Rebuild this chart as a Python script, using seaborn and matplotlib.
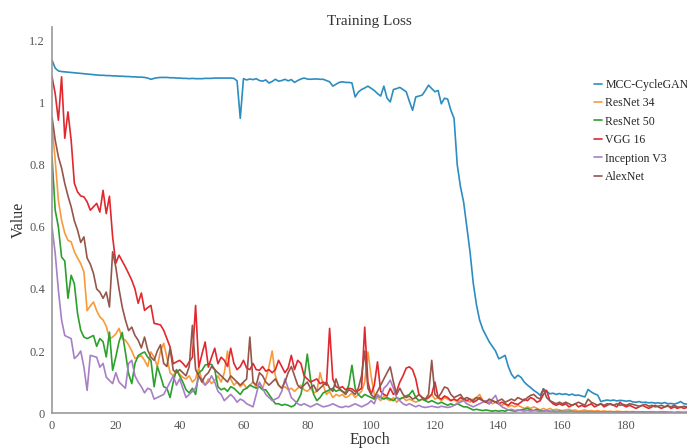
import matplotlib
matplotlib.use("Agg")
import matplotlib.pyplot as plt
import numpy as np
import pandas as pd
import seaborn as sns

epochs = list(range(200))

mcc_cyclegan = [
    1.138, 1.112, 1.103, 1.101, 1.100, 1.099, 1.098, 1.097, 1.096, 1.095,
    1.094, 1.093, 1.092, 1.091, 1.090, 1.089, 1.089, 1.088, 1.088, 1.087,
    1.087, 1.086, 1.086, 1.085, 1.085, 1.084, 1.084, 1.083, 1.083, 1.082,
    1.080, 1.076, 1.079, 1.081, 1.082, 1.082, 1.082, 1.081, 1.081, 1.080,
    1.080, 1.079, 1.079, 1.078, 1.079, 1.078, 1.078, 1.078, 1.079, 1.079,
    1.079, 1.080, 1.080, 1.080, 1.080, 1.080, 1.080, 1.079, 1.071, 0.950,
    1.078, 1.074, 1.077, 1.075, 1.078, 1.072, 1.070, 1.074, 1.064, 1.069,
    1.076, 1.070, 1.072, 1.076, 1.071, 1.075, 1.066, 1.072, 1.077, 1.080,
    1.077, 1.076, 1.077, 1.077, 1.076, 1.076, 1.072, 1.068, 1.054, 1.060,
    1.066, 1.068, 1.066, 1.066, 1.064, 1.019, 1.035, 1.043, 1.048, 1.054,
    1.047, 1.040, 1.030, 1.022, 1.054, 1.015, 1.003, 1.043, 1.046, 1.050,
    1.043, 1.036, 1.005, 0.976, 1.019, 1.022, 1.025, 1.040, 1.057, 1.046,
    1.036, 1.040, 0.997, 1.015, 1.012, 0.976, 0.950, 0.800, 0.730, 0.680,
    0.600, 0.520, 0.420, 0.350, 0.300, 0.270, 0.250, 0.230, 0.215, 0.200,
    0.175, 0.180, 0.186, 0.150, 0.125, 0.112, 0.122, 0.115, 0.100, 0.090,
    0.082, 0.073, 0.066, 0.057, 0.078, 0.070, 0.062, 0.064, 0.060, 0.063,
    0.060, 0.062, 0.058, 0.061, 0.057, 0.058, 0.055, 0.052, 0.076, 0.068,
    0.062, 0.058, 0.037, 0.040, 0.042, 0.040, 0.042, 0.039, 0.041, 0.040,
    0.038, 0.040, 0.036, 0.035, 0.037, 0.034, 0.035, 0.033, 0.034, 0.032,
    0.033, 0.031, 0.034, 0.030, 0.031, 0.029, 0.032, 0.037, 0.030, 0.029,
]

resnet34 = [
    0.928, 0.815, 0.686, 0.622, 0.580, 0.557, 0.552, 0.520, 0.500, 0.482,
    0.455, 0.330, 0.345, 0.358, 0.330, 0.310, 0.300, 0.280, 0.240, 0.245,
    0.255, 0.273, 0.240, 0.235, 0.220, 0.200, 0.176, 0.180, 0.185, 0.170,
    0.150, 0.197, 0.180, 0.150, 0.200, 0.225, 0.180, 0.130, 0.120, 0.138,
    0.125, 0.115, 0.110, 0.120, 0.100, 0.110, 0.148, 0.100, 0.090, 0.110,
    0.095, 0.105, 0.120, 0.100, 0.130, 0.200, 0.110, 0.090, 0.100, 0.085,
    0.095, 0.080, 0.090, 0.100, 0.085, 0.095, 0.080, 0.110, 0.150, 0.200,
    0.120, 0.090, 0.080, 0.085, 0.075, 0.080, 0.070, 0.080, 0.090, 0.075,
    0.070, 0.080, 0.065, 0.070, 0.130, 0.090, 0.060, 0.070, 0.050, 0.060,
    0.055, 0.060, 0.050, 0.055, 0.065, 0.050, 0.060, 0.070, 0.100, 0.197,
    0.120, 0.060, 0.050, 0.040, 0.055, 0.045, 0.040, 0.050, 0.035, 0.045,
    0.050, 0.040, 0.045, 0.040, 0.035, 0.040, 0.045, 0.040, 0.050, 0.060,
    0.045, 0.050, 0.040, 0.050, 0.045, 0.040, 0.045, 0.035, 0.040, 0.045,
    0.040, 0.035, 0.045, 0.050, 0.060, 0.040, 0.035, 0.040, 0.030, 0.035,
    0.030, 0.025, 0.030, 0.020, 0.025, 0.020, 0.025, 0.020, 0.015, 0.020,
    0.015, 0.020, 0.015, 0.010, 0.015, 0.010, 0.015, 0.010, 0.012, 0.010,
    0.008, 0.010, 0.012, 0.008, 0.010, 0.006, 0.008, 0.010, 0.006, 0.008,
    0.006, 0.008, 0.005, 0.007, 0.005, 0.006, 0.004, 0.006, 0.005, 0.004,
    0.005, 0.004, 0.005, 0.003, 0.004, 0.003, 0.004, 0.003, 0.004, 0.003,
    0.003, 0.004, 0.003, 0.002, 0.003, 0.002, 0.003, 0.002, 0.003, 0.002,
]

resnet50 = [
    0.826, 0.654, 0.600, 0.503, 0.490, 0.370, 0.444, 0.417, 0.321, 0.267,
    0.245, 0.240, 0.245, 0.250, 0.215, 0.240, 0.230, 0.181, 0.261, 0.138,
    0.181, 0.230, 0.260, 0.196, 0.127, 0.095, 0.160, 0.185, 0.192, 0.197,
    0.180, 0.170, 0.085, 0.150, 0.120, 0.085, 0.080, 0.050, 0.100, 0.140,
    0.120, 0.100, 0.075, 0.065, 0.080, 0.060, 0.130, 0.138, 0.155, 0.157,
    0.157, 0.140, 0.085, 0.075, 0.080, 0.070, 0.085, 0.080, 0.070, 0.060,
    0.075, 0.080, 0.090, 0.085, 0.080, 0.085, 0.075, 0.075, 0.060, 0.045,
    0.030, 0.030, 0.025, 0.028, 0.025, 0.020, 0.025, 0.040, 0.060, 0.110,
    0.190, 0.110, 0.060, 0.040, 0.050, 0.065, 0.070, 0.075, 0.080, 0.070,
    0.075, 0.070, 0.065, 0.090, 0.154, 0.080, 0.060, 0.050, 0.060, 0.055,
    0.050, 0.045, 0.055, 0.050, 0.045, 0.050, 0.045, 0.040, 0.050, 0.045,
    0.050, 0.055, 0.060, 0.073, 0.050, 0.040, 0.045, 0.040, 0.035, 0.040,
    0.035, 0.030, 0.035, 0.030, 0.025, 0.030, 0.025, 0.030, 0.025, 0.020,
    0.020, 0.015, 0.010, 0.012, 0.010, 0.008, 0.010, 0.008, 0.006, 0.008,
    0.006, 0.008, 0.006, 0.010, 0.008, 0.006, 0.008, 0.010, 0.012, 0.015,
    0.010, 0.008, 0.012, 0.008, 0.006, 0.008, 0.005, 0.006, 0.004, 0.006,
    0.005, 0.004, 0.006, 0.005, 0.004, 0.003, 0.004, 0.003, 0.005, 0.004,
    0.003, 0.004, 0.003, 0.002, 0.003, 0.004, 0.003, 0.002, 0.003, 0.002,
    0.003, 0.002, 0.003, 0.002, 0.002, 0.003, 0.002, 0.002, 0.003, 0.002,
    0.002, 0.002, 0.003, 0.002, 0.002, 0.001, 0.002, 0.002, 0.001, 0.002,
]

vgg16 = [
    1.084, 1.030, 0.944, 1.084, 0.886, 0.971, 0.880, 0.741, 0.713, 0.700,
    0.697, 0.681, 0.654, 0.665, 0.676, 0.648, 0.718, 0.643, 0.699, 0.568,
    0.483, 0.509, 0.490, 0.471, 0.450, 0.428, 0.400, 0.354, 0.387, 0.331,
    0.340, 0.347, 0.289, 0.287, 0.284, 0.267, 0.240, 0.213, 0.159, 0.165,
    0.170, 0.160, 0.148, 0.165, 0.180, 0.347, 0.148, 0.190, 0.229, 0.148,
    0.180, 0.209, 0.159, 0.180, 0.170, 0.150, 0.209, 0.160, 0.140, 0.150,
    0.170, 0.145, 0.140, 0.160, 0.140, 0.138, 0.150, 0.135, 0.140, 0.130,
    0.140, 0.170, 0.150, 0.130, 0.145, 0.186, 0.140, 0.170, 0.160, 0.120,
    0.110, 0.100, 0.105, 0.110, 0.095, 0.100, 0.090, 0.273, 0.110, 0.085,
    0.080, 0.085, 0.075, 0.080, 0.078, 0.070, 0.072, 0.080, 0.277, 0.100,
    0.060, 0.090, 0.165, 0.070, 0.060, 0.055, 0.080, 0.060, 0.070, 0.100,
    0.120, 0.145, 0.149, 0.140, 0.110, 0.060, 0.050, 0.045, 0.050, 0.060,
    0.100, 0.050, 0.045, 0.055, 0.050, 0.040, 0.045, 0.040, 0.050, 0.045,
    0.040, 0.045, 0.035, 0.040, 0.050, 0.040, 0.035, 0.030, 0.040, 0.035,
    0.030, 0.035, 0.030, 0.025, 0.035, 0.030, 0.028, 0.035, 0.045, 0.040,
    0.050, 0.045, 0.035, 0.040, 0.060, 0.073, 0.040, 0.030, 0.025, 0.030,
    0.025, 0.030, 0.020, 0.025, 0.030, 0.020, 0.025, 0.020, 0.025, 0.030,
    0.020, 0.025, 0.030, 0.020, 0.025, 0.030, 0.025, 0.020, 0.035, 0.025,
    0.020, 0.025, 0.020, 0.015, 0.020, 0.025, 0.020, 0.015, 0.020, 0.025,
    0.020, 0.015, 0.020, 0.025, 0.015, 0.020, 0.015, 0.020, 0.015, 0.018,
]

inception_v3 = [
    0.600, 0.515, 0.396, 0.300, 0.250, 0.245, 0.240, 0.176, 0.185, 0.200,
    0.148, 0.073, 0.186, 0.183, 0.180, 0.148, 0.160, 0.116, 0.105, 0.095,
    0.130, 0.100, 0.090, 0.080, 0.160, 0.170, 0.120, 0.100, 0.085, 0.065,
    0.080, 0.075, 0.045, 0.050, 0.055, 0.060, 0.080, 0.100, 0.120, 0.090,
    0.110, 0.080, 0.050, 0.060, 0.070, 0.080, 0.117, 0.110, 0.090, 0.100,
    0.120, 0.100, 0.070, 0.060, 0.040, 0.050, 0.060, 0.050, 0.035, 0.045,
    0.040, 0.030, 0.025, 0.020, 0.060, 0.100, 0.080, 0.060, 0.050, 0.040,
    0.045, 0.050, 0.070, 0.110, 0.080, 0.050, 0.040, 0.030, 0.025, 0.030,
    0.025, 0.020, 0.025, 0.030, 0.025, 0.020, 0.022, 0.025, 0.030, 0.025,
    0.020, 0.018, 0.022, 0.020, 0.025, 0.030, 0.025, 0.020, 0.025, 0.030,
    0.040, 0.030, 0.060, 0.050, 0.080, 0.090, 0.106, 0.080, 0.050, 0.040,
    0.030, 0.025, 0.030, 0.025, 0.020, 0.025, 0.020, 0.018, 0.020, 0.022,
    0.020, 0.018, 0.022, 0.020, 0.018, 0.020, 0.025, 0.030, 0.035, 0.040,
    0.030, 0.025, 0.020, 0.025, 0.030, 0.035, 0.040, 0.030, 0.045, 0.057,
    0.030, 0.020, 0.015, 0.010, 0.012, 0.008, 0.010, 0.008, 0.006, 0.008,
    0.006, 0.008, 0.007, 0.005, 0.006, 0.008, 0.006, 0.005, 0.006, 0.004,
    0.005, 0.006, 0.004, 0.005, 0.004, 0.003, 0.004, 0.005, 0.003, 0.004,
    0.003, 0.004, 0.003, 0.002, 0.003, 0.004, 0.003, 0.002, 0.003, 0.002,
    0.003, 0.002, 0.003, 0.002, 0.002, 0.003, 0.002, 0.002, 0.003, 0.002,
    0.002, 0.002, 0.003, 0.002, 0.002, 0.001, 0.002, 0.002, 0.001, 0.002,
]

alexnet = [
    0.955, 0.880, 0.826, 0.790, 0.740, 0.700, 0.665, 0.620, 0.590, 0.550,
    0.568, 0.500, 0.480, 0.450, 0.400, 0.390, 0.370, 0.390, 0.342, 0.520,
    0.470, 0.400, 0.342, 0.300, 0.266, 0.277, 0.250, 0.235, 0.210, 0.245,
    0.203, 0.180, 0.170, 0.200, 0.220, 0.160, 0.150, 0.209, 0.138, 0.130,
    0.140, 0.130, 0.120, 0.150, 0.283, 0.140, 0.120, 0.100, 0.120, 0.130,
    0.150, 0.140, 0.130, 0.120, 0.110, 0.100, 0.120, 0.110, 0.100, 0.090,
    0.100, 0.110, 0.245, 0.100, 0.090, 0.130, 0.120, 0.100, 0.090, 0.100,
    0.110, 0.090, 0.080, 0.100, 0.130, 0.150, 0.120, 0.090, 0.080, 0.090,
    0.100, 0.080, 0.090, 0.070, 0.080, 0.090, 0.100, 0.080, 0.070, 0.110,
    0.080, 0.070, 0.060, 0.075, 0.070, 0.060, 0.080, 0.120, 0.200, 0.080,
    0.060, 0.050, 0.070, 0.090, 0.110, 0.130, 0.149, 0.100, 0.060, 0.080,
    0.060, 0.050, 0.055, 0.045, 0.050, 0.060, 0.050, 0.045, 0.060, 0.170,
    0.060, 0.050, 0.065, 0.084, 0.080, 0.060, 0.050, 0.055, 0.060, 0.045,
    0.050, 0.045, 0.040, 0.050, 0.045, 0.040, 0.035, 0.045, 0.040, 0.035,
    0.040, 0.045, 0.035, 0.040, 0.045, 0.040, 0.050, 0.045, 0.040, 0.050,
    0.057, 0.060, 0.050, 0.045, 0.078, 0.050, 0.040, 0.035, 0.030, 0.035,
    0.030, 0.035, 0.030, 0.025, 0.030, 0.035, 0.030, 0.025, 0.045, 0.035,
    0.030, 0.025, 0.030, 0.025, 0.030, 0.028, 0.025, 0.030, 0.025, 0.028,
    0.025, 0.030, 0.028, 0.025, 0.022, 0.025, 0.028, 0.022, 0.025, 0.020,
    0.022, 0.025, 0.020, 0.022, 0.020, 0.025, 0.020, 0.018, 0.022, 0.020,
]

model_names = ["MCC-CycleGAN", "ResNet 34", "ResNet 50", "VGG 16", "Inception V3", "AlexNet"]
series = [mcc_cyclegan, resnet34, resnet50, vgg16, inception_v3, alexnet]
colors = ["#2c8dc0", "#f99a3a", "#2ca02c", "#e0282e", "#a77fc6", "#94564b"]

rows = []
for name, vals in zip(model_names, series):
    for e, v in zip(epochs, vals):
        rows.append({"Epoch": e, "Value": v, "model": name})
df = pd.DataFrame(rows)

sns.set_style("white")
plt.rcParams["font.family"] = ["Liberation Serif", "DejaVu Serif"]

fig = plt.figure(figsize=(6.87, 4.48), dpi=100)
ax = fig.add_axes([0.0757, 0.078, 0.9243, 0.862])

sns.lineplot(data=df, x="Epoch", y="Value", hue="model", hue_order=model_names,
             palette=dict(zip(model_names, colors)), linewidth=1.2, ax=ax, legend=True)

ax.set_xlim(0, 199)
ax.set_ylim(0, 1.245)
ax.set_xticks(np.arange(0, 181, 20))
ax.set_yticks([0, 0.2, 0.4, 0.6, 0.8, 1.0, 1.2])
ax.set_yticklabels(["0", "0.2", "0.4", "0.6", "0.8", "1", "1.2"])
ax.tick_params(axis="both", length=0, labelsize=9, colors="#555555")
ax.tick_params(axis="x", pad=5)
ax.tick_params(axis="y", pad=5)

for s in ["top", "right"]:
    ax.spines[s].set_visible(False)
for s in ["left", "bottom"]:
    ax.spines[s].set_color("#999999")
    ax.spines[s].set_linewidth(1.2)

ax.set_xlabel("Epoch", fontsize=11.5, color="#333333", labelpad=0)
ax.set_ylabel("Value", fontsize=11.5, color="#333333", labelpad=2)
ax.set_title("Training Loss", fontsize=11, color="#333333", pad=1)

handles, labels = ax.get_legend_handles_labels()
ax.legend(handles, labels, loc="upper left", bbox_to_anchor=(0.858, 0.835),
          bbox_transform=fig.transFigure, frameon=False, fontsize=8.5,
          handlelength=0.7, handletextpad=0.25, labelspacing=0.55, borderaxespad=0)

fig.savefig("out.png", dpi=100)
